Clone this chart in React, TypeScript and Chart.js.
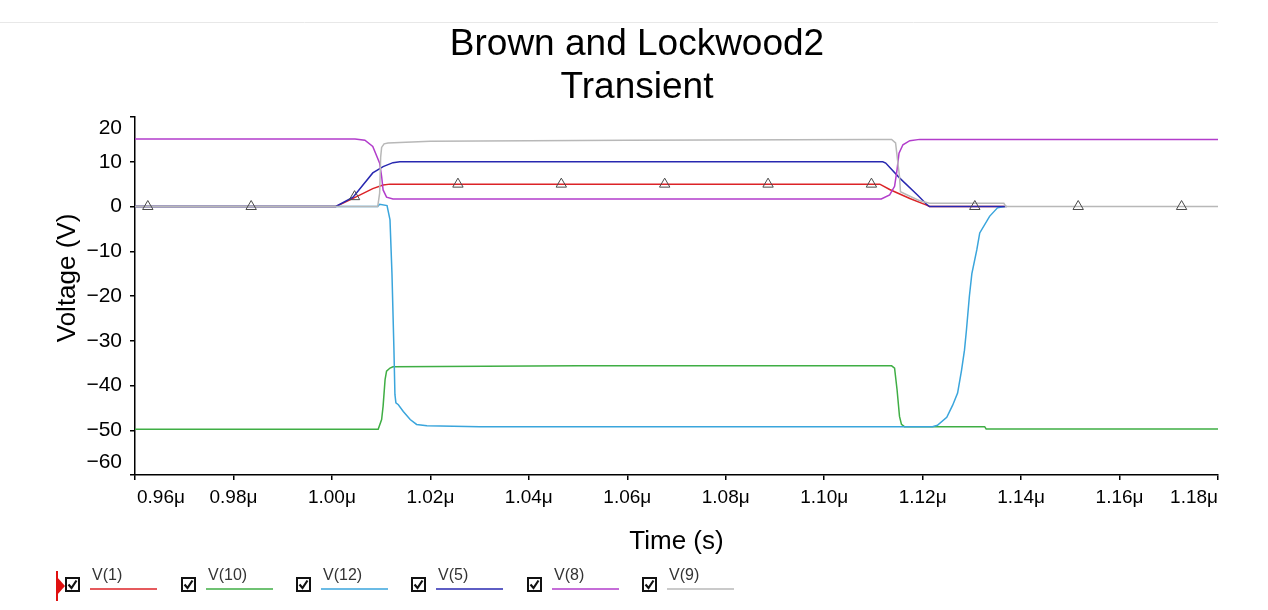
import React, { useEffect, useRef } from 'react';
import { Chart, registerables } from 'chart.js';

Chart.register(...registerables);

const FONT = '"Liberation Sans", Arial, Helvetica, sans-serif';

// ---- text ----
const titleLines = ['Brown and Lockwood2', 'Transient'];
const xAxisTitle = 'Time (s)';
const yAxisTitle = 'Voltage (V)';

// ---- axes (time in µs) ----
const xMin = 0.96;
const xMax = 1.18;
const xStep = 0.02;
const yMin = -60;
const yMax = 20;
const yStep = 10;

// ---- series ----
const seriesNames = ['V(1)', 'V(10)', 'V(12)', 'V(5)', 'V(8)', 'V(9)'];
const seriesColors = ['#dc2327', '#3fae44', '#3aa5dc', '#2828b0', '#b23dcb', '#b8b8b8'];

// V(1)
const t1 = [0.96, 1.0008, 1.0043, 1.0083, 1.0104, 1.0118, 1.1113, 1.1133, 1.1174, 1.1208, 1.1214, 1.1367];
const v1 = [0, 0, 1.8, 4.0, 4.8, 5.0, 5.0, 3.8, 1.8, 0.3, 0, 0];

// V(10)
const t10 = [0.96, 1.0094, 1.0101, 1.0104, 1.0108, 1.0111, 1.0118, 1.0124, 1.05, 1.1137, 1.1143, 1.1148, 1.1153, 1.1157, 1.1163, 1.1326, 1.1329, 1.18];
const v10 = [-49.8, -49.8, -47.6, -44.6, -38.7, -36.8, -36.1, -35.8, -35.6, -35.6, -36.1, -40.9, -46.9, -48.7, -49.2, -49.2, -49.7, -49.7];

// V(12)
const t12 = [0.96, 1.0093, 1.0097, 1.0112, 1.0118, 1.0122, 1.0126, 1.0128, 1.013, 1.0135, 1.0145, 1.0159, 1.0172, 1.0193, 1.03, 1.122, 1.123, 1.1249, 1.1261, 1.1271, 1.1279, 1.1285, 1.1289, 1.1295, 1.13, 1.131, 1.1316, 1.1336, 1.1352, 1.1367];
const v12 = [0, 0, 0.5, 0.2, -3, -15, -32, -42, -43.9, -44.3, -45.8, -47.6, -48.7, -49.0, -49.2, -49.2, -48.9, -47.1, -44.4, -41.7, -36.6, -32.1, -27.6, -20, -15, -9.7, -5.9, -2.2, -0.3, 0];

// V(5)
const t5 = [0.96, 1.0008, 1.0043, 1.0083, 1.0104, 1.0124, 1.0138, 1.1119, 1.1125, 1.1153, 1.119, 1.1208, 1.1214, 1.1371];
const v5 = [0, 0, 2.1, 7.5, 8.9, 9.8, 10, 10, 9.7, 6.4, 2.5, 0.5, 0, 0];

// V(8)
const t8 = [0.96, 1.0047, 1.0067, 1.0083, 1.0097, 1.0101, 1.0104, 1.0111, 1.0124, 1.1116, 1.1133, 1.1143, 1.1148, 1.1152, 1.116, 1.1174, 1.1194, 1.18];
const v8 = [15.1, 15.1, 14.8, 13.4, 9.7, 6.7, 3.7, 2.1, 1.7, 1.7, 2.6, 4.5, 8.2, 11.9, 13.8, 14.7, 15.0, 15.0];

// V(9)
const t9 = [0.96, 1.0093, 1.0097, 1.0099, 1.0101, 1.0106, 1.0114, 1.0138, 1.02, 1.06, 1.11, 1.1137, 1.1145, 1.1149, 1.1153, 1.1155, 1.1174, 1.1194, 1.1214, 1.1365, 1.1369, 1.18];
const v9 = [0, 0, 3, 11, 13.2, 14.0, 14.2, 14.3, 14.6, 14.8, 15.0, 15.0, 14.2, 10.4, 6.7, 3.3, 2.3, 1.3, 0.75, 0.7, 0, 0];

// triangle markers (on V(1))
const markerTimes = [0.9626, 0.9836, 1.0046, 1.0256, 1.0466, 1.0676, 1.0886, 1.1096, 1.1306, 1.1516, 1.1726];
const markerValues = [0, 0, 2.2, 5, 5, 5, 5, 5, 0, 0, 0];

const seriesTimes = [t1, t10, t12, t5, t8, t9];
const seriesValues = [v1, v10, v12, v5, v8, v9];

const toXY = (ts: number[], vs: number[]) => ts.map((x, i) => ({ x, y: vs[i] }));

// Edge tick labels are pulled inside the axis ends, as in the reference.
const edgeLabelPlugin = {
  id: 'edgeLabels',
  beforeDraw(chart: any) {
    try {
      const ys = chart.scales.y;
      const yItems = ys.getLabelItems();
      yItems.forEach((it: any) => {
        const tr = it.options.translation;
        if (Math.abs(tr[1] - ys.top) < 1) tr[1] += 11;
        else if (Math.abs(tr[1] - ys.bottom) < 1) tr[1] -= 13;
      });
      const xs = chart.scales.x;
      const xItems = xs.getLabelItems();
      xItems.forEach((it: any) => {
        const tr = it.options.translation;
        if (Math.abs(tr[0] - xs.left) < 1) { it.options.textAlign = 'left'; tr[0] = xs.left + 2; }
        else if (Math.abs(tr[0] - xs.right) < 1) { it.options.textAlign = 'right'; tr[0] = xs.right; }
      });
    } catch (e) {
      /* ignore */
    }
  },
};

const legendPlugin = {
  id: 'scopeLegend',
  afterDraw(chart: any) {
    const ctx = chart.ctx as CanvasRenderingContext2D;
    ctx.save();
    // faint frame line at top
    ctx.strokeStyle = '#e8e8e8';
    ctx.lineWidth = 1;
    ctx.beginPath();
    ctx.moveTo(0, 22.5);
    ctx.lineTo(1218, 22.5);
    ctx.stroke();

    // red cursor marker at far left
    ctx.fillStyle = '#e01010';
    ctx.fillRect(56, 571, 2, 30);
    ctx.beginPath();
    ctx.moveTo(57, 577);
    ctx.lineTo(65, 586);
    ctx.lineTo(57, 595);
    ctx.closePath();
    ctx.fill();

    const cbLeft = [65, 181, 296, 411, 527, 642];
    seriesNames.forEach((name, i) => {
      const cx = cbLeft[i];
      const cy = 577;
      // checkbox
      ctx.fillStyle = '#fff';
      ctx.fillRect(cx, cy, 15, 15);
      ctx.strokeStyle = '#111';
      ctx.lineWidth = 2;
      ctx.strokeRect(cx + 1, cy + 1, 13, 13);
      ctx.lineWidth = 2.2;
      ctx.beginPath();
      ctx.moveTo(cx + 3.5, cy + 7.5);
      ctx.lineTo(cx + 6.5, cy + 11);
      ctx.lineTo(cx + 11.5, cy + 3.5);
      ctx.stroke();
      // label
      ctx.fillStyle = '#333';
      ctx.font = `16px ${FONT}`;
      ctx.textBaseline = 'alphabetic';
      ctx.textAlign = 'left';
      ctx.fillText(name, cx + 27, 580);
      // line sample
      ctx.strokeStyle = seriesColors[i];
      ctx.lineWidth = 1.5;
      ctx.beginPath();
      ctx.moveTo(cx + 25, 589);
      ctx.lineTo(cx + 92, 589);
      ctx.stroke();
    });
    ctx.restore();
  },
};

export default function App() {
  const canvasRef = useRef<HTMLCanvasElement | null>(null);

  useEffect(() => {
    if (!canvasRef.current) return;
    const datasets: any[] = seriesNames.map((name, i) => ({
      label: name,
      data: toXY(seriesTimes[i], seriesValues[i]),
      borderColor: seriesColors[i],
      backgroundColor: seriesColors[i],
      borderWidth: 1.5,
      pointRadius: 0,
      fill: false,
      tension: 0,
      order: 10 - i,
    }));
    datasets.push({
      label: 'markers',
      data: toXY(markerTimes, markerValues),
      showLine: false,
      pointStyle: 'triangle',
      pointRadius: 6,
      pointBorderWidth: 1,
      pointBorderColor: '#4a4a4a',
      pointBackgroundColor: 'rgba(255,255,255,0)',
      order: 0,
    });

    const chart = new Chart(canvasRef.current, {
      type: 'line',
      data: { datasets },
      plugins: [edgeLabelPlugin, legendPlugin],
      options: {
        responsive: false,
        animation: false,
        events: [],
        layout: { padding: { left: 6, right: 0, top: 0, bottom: 50 } },
        plugins: {
          legend: { display: false },
          tooltip: { enabled: false },
          title: {
            display: true,
            text: titleLines,
            color: '#000',
            font: { family: FONT, size: 37, weight: 'normal', lineHeight: '43px' },
            padding: { top: 23.5, bottom: 7.5 },
          },
        },
        scales: {
          x: {
            type: 'linear',
            min: xMin,
            max: xMax,
            border: { display: true, color: '#000', width: 1.5 },
            grid: { display: true, drawOnChartArea: false, drawTicks: true, tickLength: 5, color: '#000', lineWidth: 1.5 },
            ticks: {
              stepSize: xStep,
              padding: 6,
              color: '#000',
              autoSkip: false,
              maxRotation: 0,
              font: { family: FONT, size: 19 },
              callback: (v: any) => Number(v).toFixed(2) + 'μ',
            },
            title: {
              display: true,
              text: xAxisTitle,
              color: '#000',
              font: { family: FONT, size: 26 },
              padding: { top: 0, bottom: 3 },
            },
            afterFit: (s: any) => { s.height = 85; },
          },
          y: {
            type: 'linear',
            min: yMin,
            max: yMax,
            border: { display: true, color: '#000', width: 1.5 },
            grid: { display: true, drawOnChartArea: false, drawTicks: true, tickLength: 5, color: '#000', lineWidth: 1.5 },
            ticks: {
              stepSize: yStep,
              padding: 8,
              color: '#000',
              font: { family: FONT, size: 21 },
              callback: (v: any) => (Number(v) < 0 ? '\u2212' + Math.abs(Number(v)) : String(v)),
            },
            title: {
              display: true,
              text: '     ' + yAxisTitle,
              color: '#000',
              font: { family: FONT, size: 26 },
              padding: { top: 46, bottom: 0 },
            },
            afterFit: (s: any) => { s.width = 129; },
          },
          yPad: {
            type: 'linear',
            position: 'right',
            display: true,
            grid: { display: false, drawTicks: false },
            border: { display: false },
            ticks: { display: false },
            title: { display: false },
            afterFit: (s: any) => { s.width = 50; },
          },
        },
      },
    } as any);
    return () => chart.destroy();
  }, []);

  return (
    <div style={{ position: 'fixed', left: 0, top: 0, width: 1268, height: 610, background: '#fff' }}>
      <canvas ref={canvasRef} width={1268} height={610} style={{ display: 'block', width: 1268, height: 610 }} />
    </div>
  );
}
